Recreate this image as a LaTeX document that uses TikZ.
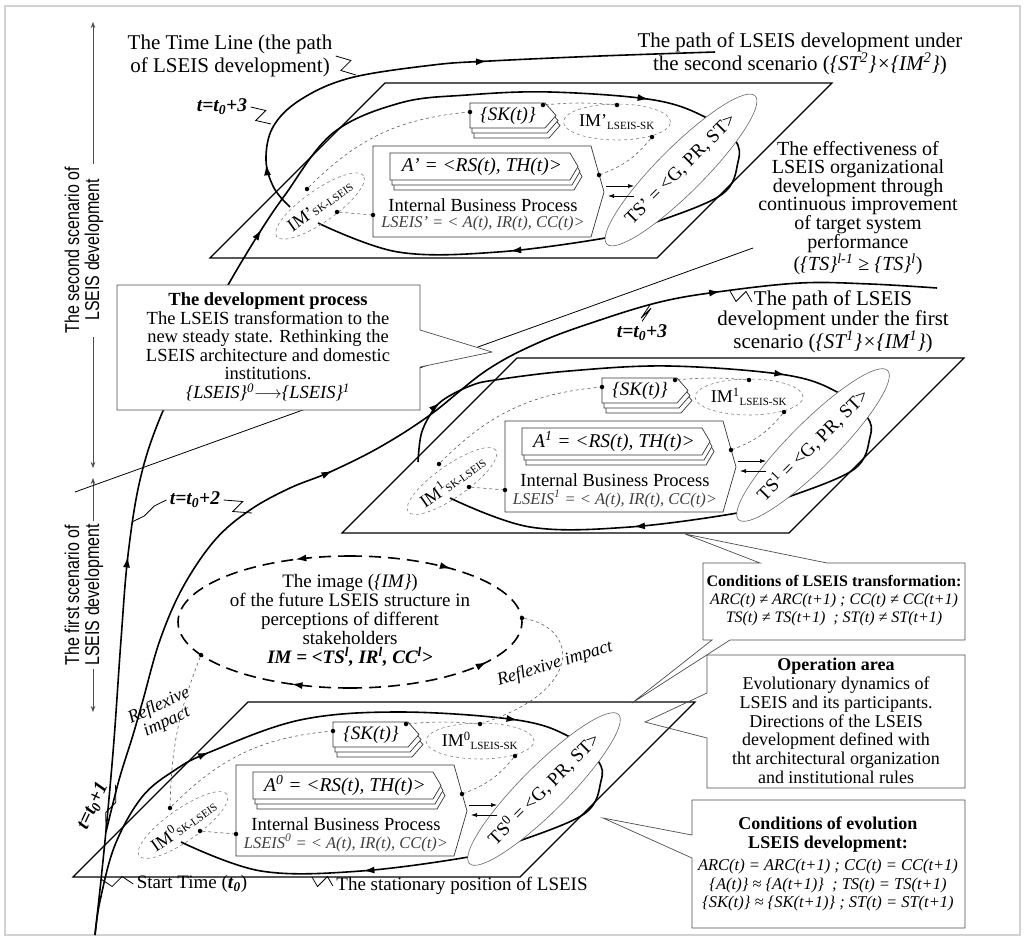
\documentclass[tikz,border=0pt]{standalone}
\usepackage{fontspec}
\setmainfont{Liberation Serif}
\newfontfamily\narrowsans[FakeStretch=0.8]{Liberation Sans}
\usetikzlibrary{shapes.geometric,decorations.markings,arrows.meta,calc}

\tikzset{
  plane/.style={line width=1.2pt},
  thickpath/.style={line width=1.6pt},
  boxline/.style={draw=black!80,line width=0.7pt},
  imoval/.style={ellipse,draw=gray,dashed,line width=0.6pt,inner sep=0pt},
  tsoval/.style={ellipse,draw=gray!80!black,line width=0.6pt,inner sep=0pt,fill=white},
  link/.style={gray!70!black,dashed,line width=0.6pt},
  dot/.style={circle,fill=black,inner sep=0pt,minimum size=4.5pt},
  callout/.style={draw=gray!60!black,line width=0.7pt},
  tlab/.style={font=\fontsize{19.5}{20}\selectfont\bfseries\itshape},
  biglab/.style={align=center,font=\fontsize{21}{22.5}\selectfont},
  squig/.style={line width=0.8pt},
  imgline/.style={line width=1.6pt,dash pattern=on 12pt off 7pt},
  mid arrow/.style={postaction={decorate,decoration={markings,
     mark=at position #1 with {\arrow{Latex[length=11pt,width=7pt]}}}}},
}

% little zigzag leader from a label to a curve
\newcommand{\squiggle}[2]{\draw[squig] #1 -- ($#1!0.5!#2+(5,-5)$) -- ($#1!0.5!#2+(-5,5)$) -- #2;}

% box with two copies stacked under it
\newcommand{\stackbox}[6]{%
  \foreach \s in {2,1,0}
    \draw[boxline,fill=white,shift={(2*\s,5*\s)}] (#1,#2) -- (#3,#2) -- (#5,#6) -- (#3,#4) -- (#1,#4) -- cycle;}

% one state plane of the LSEIS: #1 shift, #2 index mark, #3 name prefix
\newcommand{\lseisplane}[3]{%
  \begin{scope}[shift={#1}]
    \draw[plane] (0,0) -- (447,0) -- (622,-175) -- (175,-175) -- cycle;
    \stackbox{260}{-155}{335}{-130}{346}{-142.5}
    \node[font=\fontsize{19}{19}\selectfont\itshape] (#3-sk) at (298,-142.5) {\{SK(t)\}};
    \draw[boxline,fill=white] (163,-112) -- (381,-112) -- (394,-66) -- (381,-21) -- (163,-21) -- cycle;
    \stackbox{180}{-105}{360}{-78}{368}{-91.5}
    \node[font=\fontsize{19.5}{20}\selectfont\itshape] (#3-a) at (272,-91.5) {A#2 = <RS(t), TH(t)>};
    \node (#3-ibp) at (273,-53) {Internal Business Process};
    \node[font=\fontsize{16.5}{17}\selectfont\itshape,text=black!75] (#3-ls) at (273,-34) {LSEIS#2 = < A(t), IR(t), CC(t)>};
    \node[imoval,rotate=35,minimum width=100pt,minimum height=32pt,font=\fontsize{18}{18}\selectfont] (#3-imsl) at (110,-52) {IM#2{\fontsize{11}{11}\selectfont SK-LSEIS}};
    \node[imoval,minimum width=107pt,minimum height=36pt,font=\fontsize{18}{18}\selectfont] (#3-imls) at (407,-136) {IM#2\textsubscript{\fontsize{11}{11}\selectfont LSEIS-SK}};
    \node[tsoval,rotate=45,minimum width=196pt,minimum height=46pt,font=\fontsize{19}{19}\selectfont] (#3-ts) at (471,-88) {TS#2 = <G, PR, ST>};
    \draw[-{Latex[length=6pt,width=4pt]},line width=0.6pt] (396,-72) -- (424,-72);
    \draw[-{Latex[length=6pt,width=4pt]},line width=0.6pt] (424,-62) -- (398,-62);
    \foreach \n/\x/\y in {d1/97/-69, d2/127/-46, d3/163/-43, d4/260/-146, d5/333/-153, d6/407/-153, d7/442/-121, d8/389/-83}
      \node[dot] (#3-\n) at (\x,\y) {};
    \draw[link] (#3-d1) to[bend left=20] (#3-d4);
    \draw[link] (#3-d2) -- (#3-d3);
    \draw[link] (#3-d5) to[bend left=5] (#3-d6);
    \draw[link] (#3-d7) to[bend left=15] (#3-d8);
  \end{scope}}

\begin{document}
\begin{tikzpicture}[x=1pt,y=-1pt,font=\fontsize{18.5}{19}\selectfont]
\useasboundingbox (0,0) rectangle (1030,940);
\draw[gray!35,line width=2pt] (5,6) rectangle (1020,935);

% scenario scale
\draw[{Stealth[length=6pt]}-{Stealth[length=6pt]},gray!60!black,line width=0.6pt] (93,22) -- (93,468);
\node[rotate=90,fill=white,align=center,font=\narrowsans\fontsize{20}{20}\selectfont] (scen2) at (84,250) {The second scenario of\\LSEIS development};
\draw[{Stealth[length=6pt]}-{Stealth[length=6pt]},gray!60!black,line width=0.6pt] (93,478) -- (93,712);
\node[rotate=90,fill=white,align=center,font=\narrowsans\fontsize{20}{20}\selectfont] (scen1) at (84,595) {The first scenario of\\LSEIS development};

% border between the scenarios
\draw[line width=0.8pt] (75,492) -- (753,248);

% time line, entering the upper plane
\draw[thickpath,mid arrow=380pt,mid arrow=737pt,mid arrow=1181pt,mid arrow=1560pt]
  plot[smooth,tension=0.6] coordinates {(95,935) (101,880) (107,820) (114,740) (121,640) (128,555) (140,480) (160,418) (195,345) (228,285) (258,235) (285,195) (333,133) (400,103) (467,95) (550,92) (654,100) (707,118) (735,140) (738,162) (721,195) (648,225) (611,237) (498,252) (398,252) (318,223)};
% path of the second scenario
\draw[thickpath,mid arrow=50pt,mid arrow=320pt]
  plot[smooth,tension=0.6] coordinates {(290,207) (274,188) (266,160) (273,127) (300,100) (350,78) (433,65) (490,61) (600,56) (715,52)};
% path of the first scenario, leaving the time line at t0+1
\draw[thickpath,mid arrow=452pt,mid arrow=885pt]
  plot[smooth,tension=0.6] coordinates {(106,832) (119,780) (133,735) (143,700) (160,640) (183,587) (215,540) (250,510) (290,488) (330,472) (380,447) (430,415) (487,370) (540,342) (600,320) (660,302) (717,292) (800,283) (870,284) (937,288)};
% loop of the middle plane
\draw[thickpath,mid arrow=65pt,mid arrow=417pt,mid arrow=799pt]
  plot[smooth,tension=0.6] coordinates {(418,462) (421,435) (430,415) (443,400) (470,386) (495,380) (569,371) (669,366) (786,375) (839,393) (867,417) (870,437) (853,470) (780,500) (743,512) (630,527) (530,527) (450,498)};
% stationary loop of the lower plane
\draw[thickpath,mid arrow=229pt,mid arrow=544pt,mid arrow=926pt]
  plot[smooth,tension=0.6] coordinates {(95,935) (100,901) (115,845) (142,797) (175,770) (210,752) (300,720) (400,712) (517,720) (570,737) (598,761) (601,781) (584,814) (511,844) (474,856) (361,871) (261,871) (181,842)};

% the three planes
\lseisplane{(210,258)}{'}{p2}
\lseisplane{(342,533)}{\textsuperscript{1}}{p1}
\lseisplane{(73,877)}{\textsuperscript{0}}{p0}

% image of the future structure
\draw[imgline,mid arrow=0.23] (350,556) arc[start angle=270,end angle=150,x radius=172,y radius=66];
\draw[imgline,mid arrow=0.53] (350,556) arc[start angle=270,end angle=356.5,x radius=172,y radius=66];
\draw[imgline,mid arrow=0.38] (350,688) arc[start angle=90,end angle=150,x radius=172,y radius=66];
\draw[imgline,mid arrow=0.7] (350,688) arc[start angle=90,end angle=-3.5,x radius=172,y radius=66];
\node[align=center,font=\fontsize{19}{19}\selectfont] (image) at (350,620) {The image (\textit{\{IM\}})\\of the future LSEIS structure in\\perceptions of different\\stakeholders\\\textbf{\textit{IM = <TS\textsuperscript{l}, IR\textsuperscript{l}, CC\textsuperscript{l}>}}};
\node[dot] (imgl) at (201,655) {};
\node[dot] (imgr) at (522,618) {};
\draw[link] (imgl) to[bend right=10] (p0-d1);
\draw[link] (imgr) .. controls (578,628) and (585,690) .. (p0-d6);
\node[rotate=25,align=center,font=\fontsize{18}{18}\selectfont\itshape] (refl) at (163,714) {Reflexive\\impact};
\node[rotate=17,font=\fontsize{18}{18}\selectfont\itshape] (refr) at (555,664) {Reflexive impact};

% development process callout
\draw[callout,fill=white] (117,285) -- (420,285) -- (420,330) -- (492,352) -- (420,367) -- (420,410) -- (117,410) -- cycle;
\node[align=center,font=\fontsize{18.5}{18.5}\selectfont] (devbox) at (268,347) {\textbf{The development process}\\The LSEIS transformation to the\\new steady state. Rethinking the\\LSEIS architecture and domestic\\institutions.\\\textit{\{LSEIS\}\textsuperscript{0}}$\longrightarrow$\textit{\{LSEIS\}\textsuperscript{1}}};

% labels of the paths
\node[biglab] (tltext) at (230,56) {The Time Line (the path\\of LSEIS development)};
\squiggle{(tltext.east)}{(356,75)}
\node[biglab] (p2text) at (800,54) {The path of LSEIS development under\\the second scenario (\textit{\{ST\textsuperscript{2}\}×\{IM\textsuperscript{2}\}})};
\node[biglab,font=\fontsize{21}{20}\selectfont] (p1text) at (833,322) {The path of LSEIS\\development under the first\\scenario (\textit{\{ST\textsuperscript{1}\}×\{IM\textsuperscript{1}\}})};
\coordinate (p1lead) at (752,302);
\squiggle{(p1lead)}{(730,291)}
\node[align=center,font=\fontsize{20}{18.6}\selectfont] (efftext) at (858,208) {The effectiveness of\\LSEIS organizational\\development through\\continuous improvement\\of target system\\performance\\(\textit{\{TS\}\textsuperscript{l-1}} ≥ \textit{\{TS\}\textsuperscript{l}})};

\node[tlab] (t3a) at (222,107) {t=t\textsubscript{0}+3};
\squiggle{(t3a.east)}{(271,124)}
\node[tlab] (t3b) at (642,333) {t=t\textsubscript{0}+3};
\squiggle{(t3b.north)}{(650,305)}
\node[tlab] (t2) at (195,500) {t=t\textsubscript{0}+2};
\squiggle{(t2.west)}{(132,522)}
\squiggle{(t2.east)}{(252,513)}
\node[tlab,rotate=65] (t1) at (93,806) {t=t\textsubscript{0}+1};
\squiggle{(t1.south east)}{(106,830)}

\node[font=\fontsize{19}{19}\selectfont] (start) at (192,884) {Start Time (\textbf{\textit{t}}\textsubscript{\textbf{\textit{0}}})};
\squiggle{(start.west)}{(101,879)}
\node[font=\fontsize{19}{19}\selectfont] (stat) at (462,886) {The stationary position of LSEIS};
\squiggle{(stat.west)}{(312,877)}

% condition boxes
\draw[callout] (703,563) -- (760,563) -- (685,534) -- (827,563) -- (965,563) -- (965,640) -- (730,640) -- (632,703) -- (712,640) -- (703,640) -- cycle;
\node[align=center,font=\fontsize{16}{18}\selectfont] (condtr) at (834,601) {\textbf{Conditions of LSEIS transformation:}\\\textit{ARC(t) ≠ ARC(t+1) ; CC(t) ≠ CC(t+1)}\\\textit{TS(t) ≠ TS(t+1) \ ; ST(t) ≠ ST(t+1)}};
\draw[callout] (707,655) -- (965,655) -- (965,788) -- (707,788) -- (707,738) -- (645,722) -- (707,693) -- cycle;
\node[align=center,font=\fontsize{18}{18.8}\selectfont] (oparea) at (836,721) {\textbf{Operation area}\\Evolutionary dynamics of\\LSEIS and its participants.\\Directions of the LSEIS\\development defined with\\tht architectural organization\\and institutional rules};
\draw[callout] (692,800) -- (965,800) -- (965,928) -- (692,928) -- (692,858) -- (603,818) -- (692,835) -- cycle;
\node[align=center,font=\fontsize{16.5}{18.5}\selectfont] (condev) at (828,864) {\textbf{\fontsize{18}{18.5}\selectfont Conditions of evolution}\\\textbf{\fontsize{18}{18.5}\selectfont LSEIS development:}\\[4pt]\textit{ARC(t) = ARC(t+1) ; CC(t) = CC(t+1)}\\\textit{\{A(t)\} ≈ \{A(t+1)\} \ ; TS(t) = TS(t+1)}\\\textit{\{SK(t)\} ≈ \{SK(t+1)\} ; ST(t) = ST(t+1)}};
\end{tikzpicture}
\end{document}
